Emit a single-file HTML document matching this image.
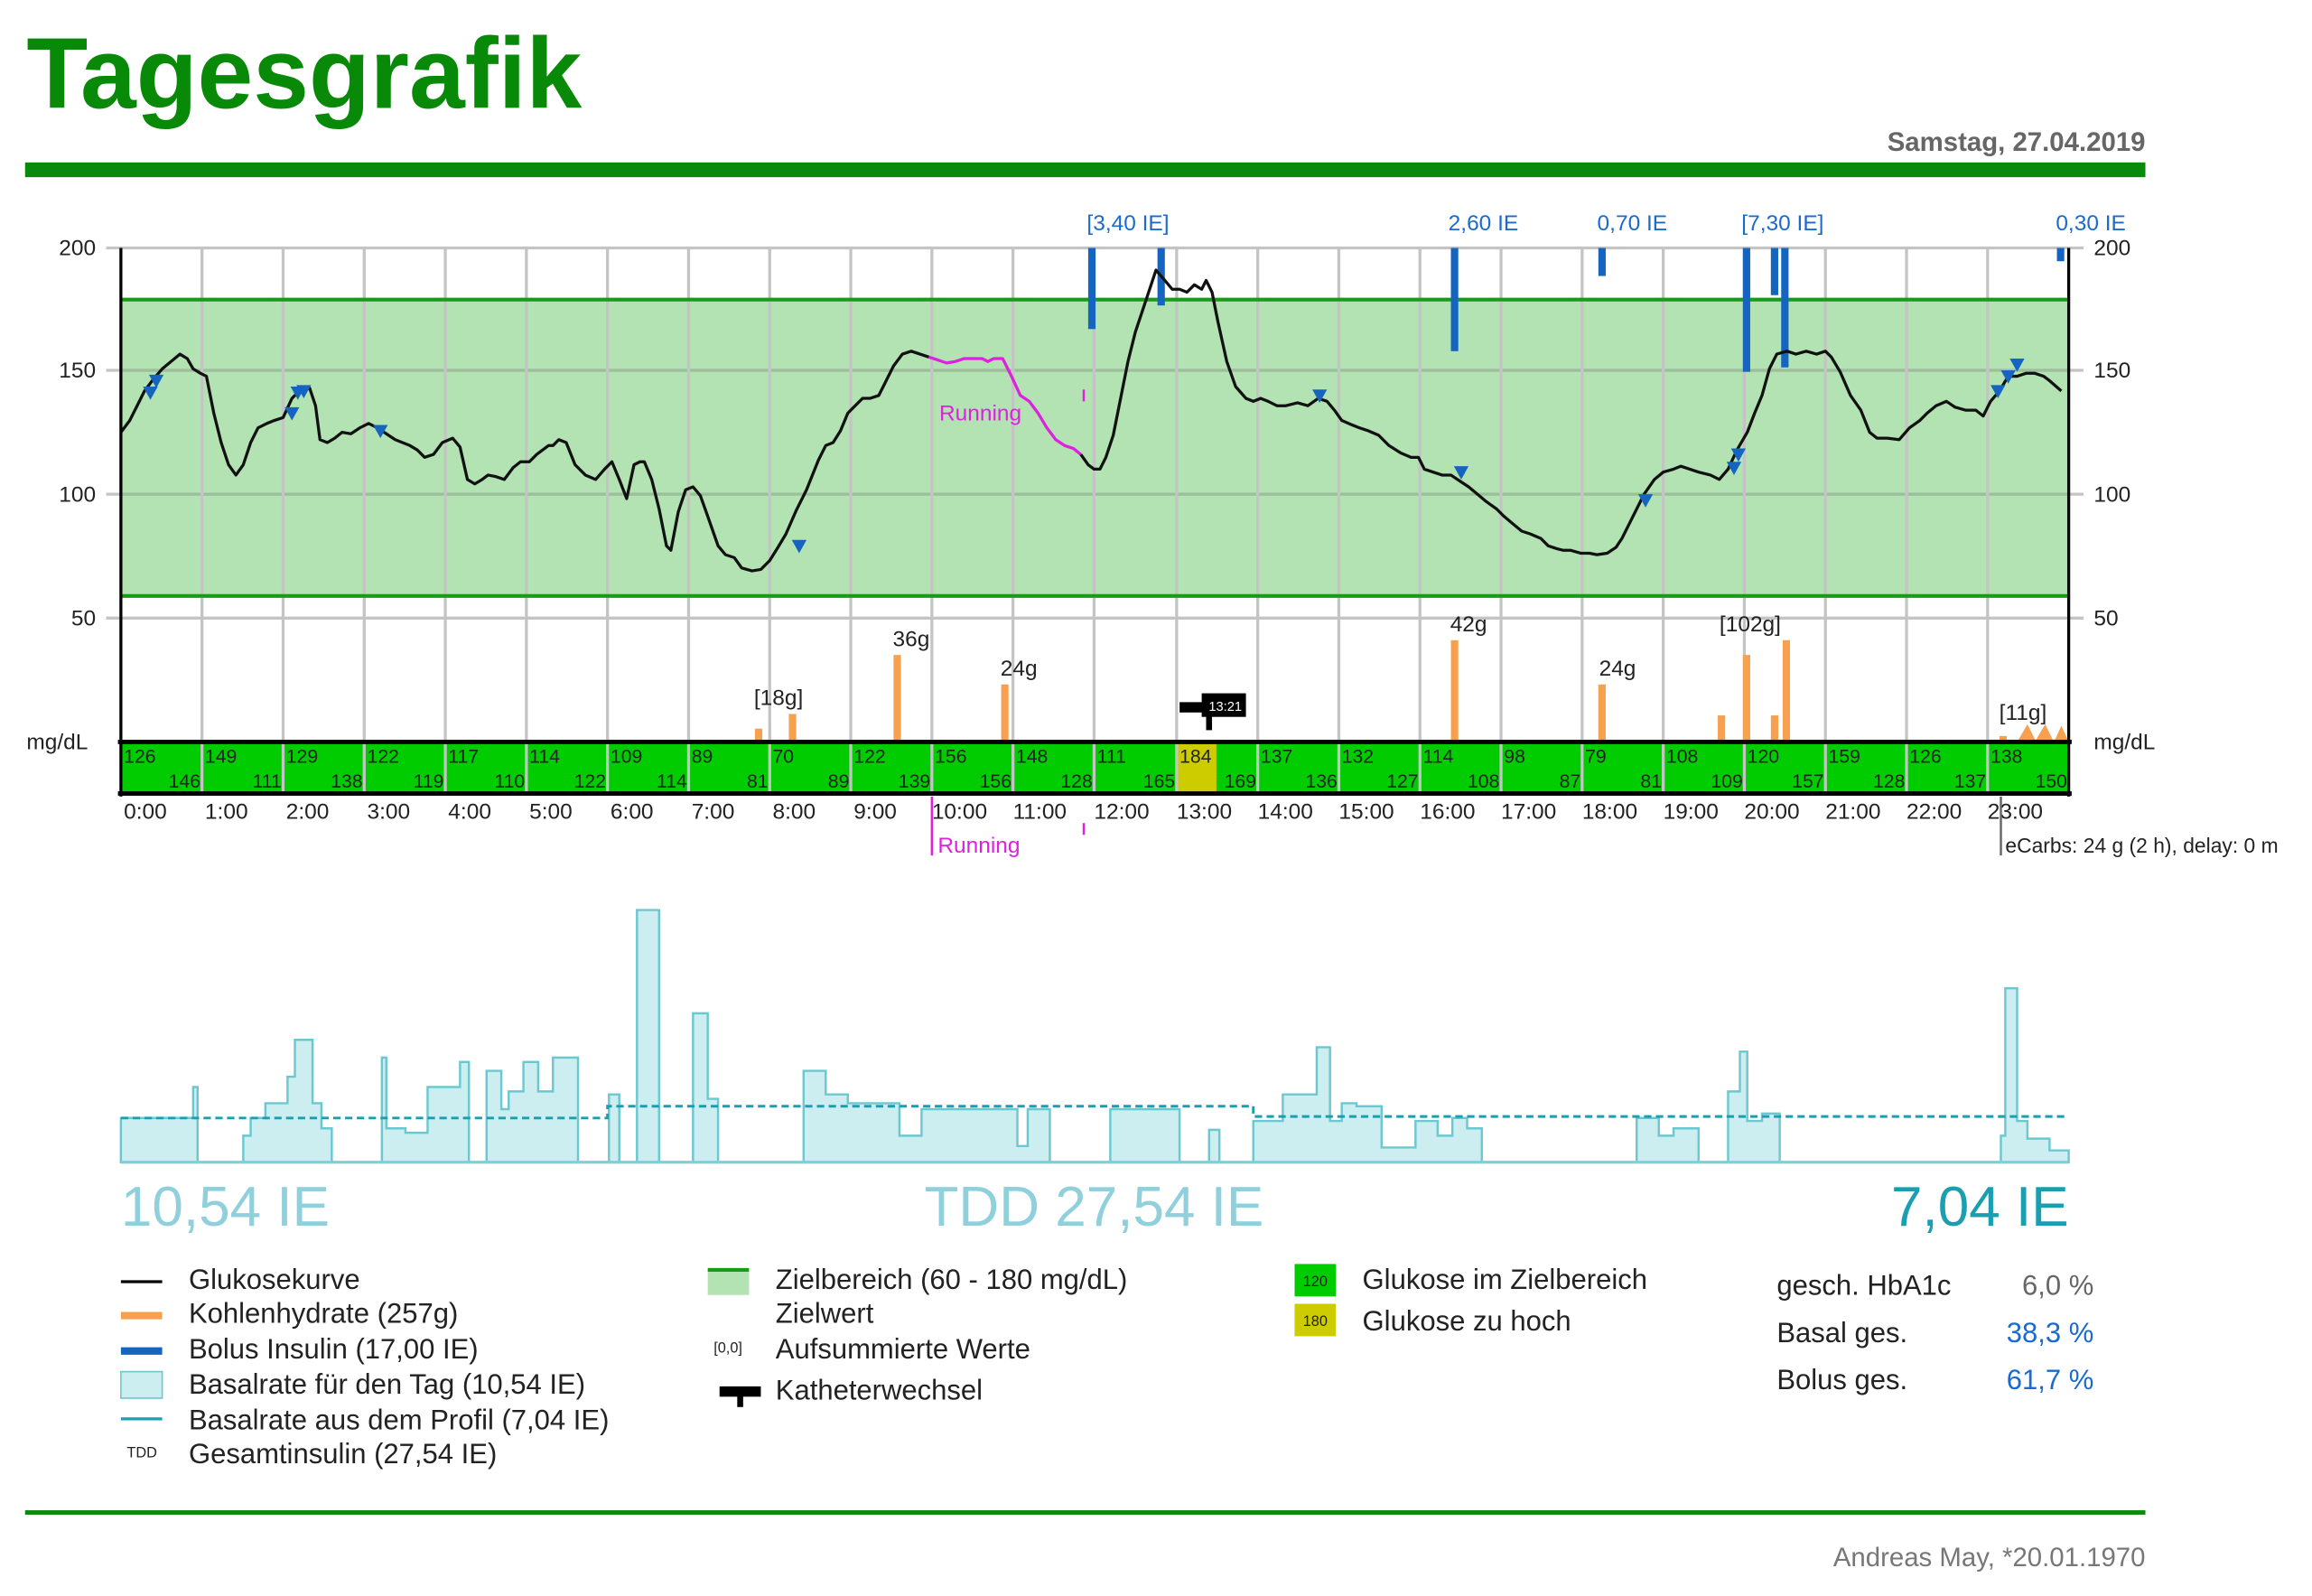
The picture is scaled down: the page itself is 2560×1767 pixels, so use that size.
<!DOCTYPE html>
<html><head><meta charset="utf-8"><style>html,body{margin:0;padding:0;background:#fff}svg{display:block}text{font-family:"Liberation Sans",sans-serif}</style></head><body>
<svg width="2560" height="1767" viewBox="0 0 1568 1082" xmlns="http://www.w3.org/2000/svg">
<text x="18" y="73" font-size="68" font-weight="bold" fill="#088a08">Tagesgrafik</text>
<rect x="17" y="110" width="1438" height="10" fill="#0a8a0a"/>
<text x="1455" y="102" font-size="18" text-anchor="end" fill="#666" font-weight="bold">Samstag, 27.04.2019</text>
<rect x="82" y="203" width="1321" height="201" fill="#b3e2b3"/>
<g stroke="#c4c4c4" stroke-width="2">
<line x1="72" y1="168" x2="1413" y2="168"/><line x1="72" y1="251" x2="1413" y2="251"/><line x1="72" y1="335" x2="1413" y2="335"/><line x1="72" y1="419" x2="1413" y2="419"/>
</g>
<g stroke="#9abf9a" stroke-width="2"><line x1="82" y1="251" x2="1403" y2="251"/><line x1="82" y1="335" x2="1403" y2="335"/></g>
<g stroke="#c4c4c4" stroke-width="2">
<line x1="137" y1="168" x2="137" y2="503"/><line x1="192" y1="168" x2="192" y2="503"/><line x1="247" y1="168" x2="247" y2="503"/><line x1="302" y1="168" x2="302" y2="503"/><line x1="357" y1="168" x2="357" y2="503"/><line x1="412" y1="168" x2="412" y2="503"/><line x1="467" y1="168" x2="467" y2="503"/><line x1="522" y1="168" x2="522" y2="503"/><line x1="577" y1="168" x2="577" y2="503"/><line x1="632" y1="168" x2="632" y2="503"/><line x1="687" y1="168" x2="687" y2="503"/><line x1="742" y1="168" x2="742" y2="503"/><line x1="798" y1="168" x2="798" y2="503"/><line x1="853" y1="168" x2="853" y2="503"/><line x1="908" y1="168" x2="908" y2="503"/><line x1="963" y1="168" x2="963" y2="503"/><line x1="1018" y1="168" x2="1018" y2="503"/><line x1="1073" y1="168" x2="1073" y2="503"/><line x1="1128" y1="168" x2="1128" y2="503"/><line x1="1183" y1="168" x2="1183" y2="503"/><line x1="1238" y1="168" x2="1238" y2="503"/><line x1="1293" y1="168" x2="1293" y2="503"/><line x1="1348" y1="168" x2="1348" y2="503"/>
</g>
<line x1="82" y1="203" x2="1403" y2="203" stroke="#1a9a1a" stroke-width="2.5"/>
<line x1="82" y1="404" x2="1403" y2="404" stroke="#1a9a1a" stroke-width="2.5"/>
<g font-size="15" fill="#222">
<text x="65" y="173" text-anchor="end">200</text><text x="65" y="256" text-anchor="end">150</text><text x="65" y="340" text-anchor="end">100</text><text x="65" y="424" text-anchor="end">50</text>
<text x="1420" y="173">200</text><text x="1420" y="256">150</text><text x="1420" y="340">100</text><text x="1420" y="424">50</text>
<text x="18" y="508">mg/dL</text><text x="1420" y="508">mg/dL</text>
</g>
<g fill="#1565c0">
<rect x="738" y="168" width="5" height="55"/><rect x="785" y="168" width="5" height="39"/><rect x="984" y="168" width="5" height="70"/><rect x="1084" y="168" width="5" height="19"/><rect x="1182" y="168" width="5" height="84"/><rect x="1201" y="168" width="5" height="32"/><rect x="1208" y="168" width="5" height="81"/><rect x="1395" y="168" width="5" height="9"/>
</g>
<g font-size="15" fill="#1a6ad0" text-anchor="middle">
<text x="765" y="156">[3,40 IE]</text><text x="1006" y="156">2,60 IE</text><text x="1107" y="156">0,70 IE</text><text x="1209" y="156">[7,30 IE]</text><text x="1418" y="156">0,30 IE</text>
</g>
<g fill="#f7a050">
<rect x="512" y="494" width="5" height="9"/><rect x="535" y="484" width="5" height="19"/><rect x="606" y="444" width="5" height="59"/><rect x="679" y="464" width="5" height="39"/><rect x="984" y="434" width="5" height="69"/><rect x="1084" y="464" width="5" height="39"/><rect x="1165" y="485" width="5" height="18"/><rect x="1182" y="444" width="5" height="59"/><rect x="1201" y="485" width="5" height="18"/><rect x="1209" y="434" width="5" height="69"/><rect x="1356" y="499" width="5" height="4"/>
<polygon points="1368,503 1375,491 1381,503"/><polygon points="1380,503 1387,491 1393,503"/><polygon points="1393,503 1398,492 1403,503"/>
</g>
<g font-size="15" fill="#222" text-anchor="middle">
<text x="528" y="478">[18g]</text><text x="618" y="438">36g</text><text x="691" y="458">24g</text><text x="996" y="428">42g</text><text x="1097" y="458">24g</text><text x="1187" y="428">[102g]</text><text x="1372" y="488">[11g]</text>
</g>
<rect x="800" y="476" width="20" height="7" fill="#000"/><rect x="815" y="470" width="30" height="16" fill="#000"/><rect x="818" y="483" width="4" height="12" fill="#000"/>
<text x="831" y="482" font-size="9" fill="#fff" text-anchor="middle">13:21</text>
<polyline fill="none" stroke="#111" stroke-width="2" stroke-linejoin="round" points="82,293 88,285 93,275 98,265 104,257 110,250 116,245 122,240 127,243 131,250 136,253 140,255 145,280 150,300 155,315 160,322 165,315 170,300 175,290 181,287 186,285 192,283 198,270 203,265 210,263 214,275 217,298 222,300 227,297 232,293 238,294 244,290 250,287 256,290 262,294 268,298 273,300 278,302 283,305 288,310 294,308 300,300 307,297 312,303 317,325 322,328 327,325 331,322 336,323 342,325 348,317 353,313 359,313 364,308 368,305 372,302 375,302 379,298 384,300 390,315 397,322 404,325 410,318 415,313 420,325 425,338 430,315 434,313 437,313 442,325 447,345 452,370 455,373 460,347 465,332 470,330 475,336 480,350 487,370 492,376 498,378 503,385 510,387 516,386 522,380 527,372 533,362 540,346 547,332 555,312 560,302 565,300 570,292 575,280 580,275 585,270 590,270 596,268 600,260 606,248 612,240 618,238 624,240 630,242"/>
<polyline fill="none" stroke="#e020e0" stroke-width="2" stroke-linejoin="round" points="630,242 636,244 642,246 648,245 654,243 660,243 666,243 670,245 674,243 680,243 686,255 692,268 698,272 704,280 710,290 716,298 722,302 728,304 733,308"/>
<polyline fill="none" stroke="#111" stroke-width="2" stroke-linejoin="round" points="733,308 738,315 742,318 746,318 750,310 755,295 760,270 765,245 770,225 775,210 780,195 784,183 790,190 795,196 800,196 805,198 810,193 815,196 818,190 822,198 826,218 832,245 838,262 845,270 850,272 855,270 860,272 866,275 872,275 880,273 887,275 894,270 900,272 905,278 910,285 917,288 922,290 928,292 935,295 942,302 950,307 957,310 962,310 966,318 972,320 978,322 984,322 990,326 996,330 1002,335 1008,340 1015,345 1020,350 1026,355 1032,360 1038,362 1045,365 1050,370 1056,372 1060,373 1065,373 1072,375 1078,375 1083,376 1090,375 1096,371 1100,365 1105,355 1110,345 1115,335 1122,325 1128,320 1135,318 1140,316 1146,318 1152,320 1160,322 1166,325 1172,318 1178,305 1185,293 1190,280 1195,268 1200,250 1205,240 1212,238 1218,240 1225,238 1232,240 1238,238 1242,242 1248,252 1255,268 1262,278 1268,293 1273,297 1280,297 1288,298 1295,290 1302,285 1307,280 1313,275 1320,272 1326,276 1333,278 1340,278 1345,282 1350,272 1356,265 1362,255 1368,255 1374,253 1380,253 1386,255 1390,258 1398,265"/>
<g fill="#1565c0">
<polygon points="97,262 107,262 102,271"/><polygon points="101,254 111,254 106,263"/><polygon points="193,276 203,276 198,285"/><polygon points="197,262 207,262 202,271"/><polygon points="201,261 211,261 206,270"/><polygon points="253,288 263,288 258,297"/><polygon points="537,366 547,366 542,375"/><polygon points="890,264 900,264 895,273"/><polygon points="986,316 996,316 991,325"/><polygon points="1111,335 1121,335 1116,344"/><polygon points="1171,313 1181,313 1176,322"/><polygon points="1174,304 1184,304 1179,313"/><polygon points="1350,261 1360,261 1355,270"/><polygon points="1357,251 1367,251 1362,260"/><polygon points="1363,243 1373,243 1368,252"/>
</g>
<text x="637" y="285" font-size="15" fill="#e020e0">Running</text>
<line x1="735" y1="264" x2="735" y2="272" stroke="#e020e0" stroke-width="1.5"/>
<rect x="82" y="503" width="1321" height="35" fill="#00cc00"/>
<rect x="798" y="503" width="27" height="35" fill="#cccc00"/>
<g stroke="#c4c4c4" stroke-width="2">
<line x1="137" y1="503" x2="137" y2="538"/><line x1="192" y1="503" x2="192" y2="538"/><line x1="247" y1="503" x2="247" y2="538"/><line x1="302" y1="503" x2="302" y2="538"/><line x1="357" y1="503" x2="357" y2="538"/><line x1="412" y1="503" x2="412" y2="538"/><line x1="467" y1="503" x2="467" y2="538"/><line x1="522" y1="503" x2="522" y2="538"/><line x1="577" y1="503" x2="577" y2="538"/><line x1="632" y1="503" x2="632" y2="538"/><line x1="687" y1="503" x2="687" y2="538"/><line x1="742" y1="503" x2="742" y2="538"/><line x1="798" y1="503" x2="798" y2="538"/><line x1="853" y1="503" x2="853" y2="538"/><line x1="908" y1="503" x2="908" y2="538"/><line x1="963" y1="503" x2="963" y2="538"/><line x1="1018" y1="503" x2="1018" y2="538"/><line x1="1073" y1="503" x2="1073" y2="538"/><line x1="1128" y1="503" x2="1128" y2="538"/><line x1="1183" y1="503" x2="1183" y2="538"/><line x1="1238" y1="503" x2="1238" y2="538"/><line x1="1293" y1="503" x2="1293" y2="538"/><line x1="1348" y1="503" x2="1348" y2="538"/>
</g>
<line x1="80" y1="503" x2="1405" y2="503" stroke="#000" stroke-width="3"/>
<line x1="80" y1="538" x2="1405" y2="538" stroke="#000" stroke-width="3"/>
<line x1="82" y1="168" x2="82" y2="540" stroke="#000" stroke-width="2"/>
<line x1="1403" y1="168" x2="1403" y2="540" stroke="#000" stroke-width="2"/>
<g font-size="13" fill="#222">
<text x="84" y="517">126</text><text x="139" y="517">149</text><text x="194" y="517">129</text><text x="249" y="517">122</text><text x="304" y="517">117</text><text x="359" y="517">114</text><text x="414" y="517">109</text><text x="469" y="517">89</text><text x="524" y="517">70</text><text x="579" y="517">122</text><text x="634" y="517">156</text><text x="689" y="517">148</text><text x="744" y="517">111</text><text x="800" y="517">184</text><text x="855" y="517">137</text><text x="910" y="517">132</text><text x="965" y="517">114</text><text x="1020" y="517">98</text><text x="1075" y="517">79</text><text x="1130" y="517">108</text><text x="1185" y="517">120</text><text x="1240" y="517">159</text><text x="1295" y="517">126</text><text x="1350" y="517">138</text>
</g>
<g font-size="13" fill="#222" text-anchor="end">
<text x="136" y="534">146</text><text x="191" y="534">111</text><text x="246" y="534">138</text><text x="301" y="534">119</text><text x="356" y="534">110</text><text x="411" y="534">122</text><text x="466" y="534">114</text><text x="521" y="534">81</text><text x="576" y="534">89</text><text x="631" y="534">139</text><text x="686" y="534">156</text><text x="741" y="534">128</text><text x="797" y="534">165</text><text x="852" y="534">169</text><text x="907" y="534">136</text><text x="962" y="534">127</text><text x="1017" y="534">108</text><text x="1072" y="534">87</text><text x="1127" y="534">81</text><text x="1182" y="534">109</text><text x="1237" y="534">157</text><text x="1292" y="534">128</text><text x="1347" y="534">137</text><text x="1402" y="534">150</text>
</g>
<g font-size="15" fill="#222">
<text x="84" y="555">0:00</text><text x="139" y="555">1:00</text><text x="194" y="555">2:00</text><text x="249" y="555">3:00</text><text x="304" y="555">4:00</text><text x="359" y="555">5:00</text><text x="414" y="555">6:00</text><text x="469" y="555">7:00</text><text x="524" y="555">8:00</text><text x="579" y="555">9:00</text><text x="632" y="555">10:00</text><text x="687" y="555">11:00</text><text x="742" y="555">12:00</text><text x="798" y="555">13:00</text><text x="853" y="555">14:00</text><text x="908" y="555">15:00</text><text x="963" y="555">16:00</text><text x="1018" y="555">17:00</text><text x="1073" y="555">18:00</text><text x="1128" y="555">19:00</text><text x="1183" y="555">20:00</text><text x="1238" y="555">21:00</text><text x="1293" y="555">22:00</text><text x="1348" y="555">23:00</text>
</g>
<line x1="632" y1="540" x2="632" y2="580" stroke="#e020e0" stroke-width="1.5"/>
<line x1="735" y1="558" x2="735" y2="566" stroke="#e020e0" stroke-width="1.5"/>
<text x="636" y="578" font-size="15" fill="#e020e0">Running</text>
<line x1="1357" y1="540" x2="1357" y2="580" stroke="#666" stroke-width="1.5"/>
<text x="1360" y="578" font-size="14" fill="#222">eCarbs: 24 g (2 h), delay: 0 m</text>
<g fill="#cdeef0" stroke="#6cc8d0" stroke-width="1.5">
<path d="M82 788 V758 H131 V737 H134 V788 Z"/>
<path d="M165 788 V770 H170 V758 H180 V748 H195 V730 H200 V705 H212 V748 H218 V765 H225 V788 Z"/>
<path d="M259 788 V717 H262 V765 H275 V768 H290 V737 H312 V720 H318 V788 Z"/>
<path d="M330 788 V726 H340 V752 H345 V740 H355 V720 H365 V740 H375 V717 H392 V788 Z"/>
<path d="M413 788 V742 H420 V788 Z"/>
<path d="M432 788 V617 H447 V788 Z"/>
<path d="M470 788 V687 H480 V745 H487 V788 Z"/>
<path d="M545 788 V726 H560 V742 H575 V748 H610 V770 H625 V752 H690 V777 H697 V752 H712 V788 Z"/>
<path d="M753 788 V752 H800 V788 Z"/>
<path d="M820 788 V766 H827 V788 Z"/>
<path d="M850 788 V760 H870 V742 H893 V710 H902 V760 H910 V748 H920 V750 H937 V778 H960 V760 H975 V770 H985 V758 H995 V765 H1005 V788 Z"/>
<path d="M1110 788 V758 H1125 V770 H1135 V765 H1152 V788 Z"/>
<path d="M1172 788 V740 H1180 V713 H1185 V760 H1195 V755 H1207 V788 Z"/>
<path d="M1357 788 V770 H1360 V670 H1368 V760 H1375 V772 H1390 V780 H1403 V788 Z"/>
</g>
<line x1="82" y1="788" x2="1403" y2="788" stroke="#7fcfd8" stroke-width="2"/>
<polyline fill="none" stroke="#1a9fb0" stroke-width="1.8" stroke-dasharray="5,3" points="82,758 412,758 412,750 850,750 850,757 1403,757"/>
<text x="82" y="831" font-size="38" fill="#8fd0dc">10,54 IE</text>
<text x="742" y="831" font-size="38" fill="#8fd0dc" text-anchor="middle">TDD 27,54 IE</text>
<text x="1403" y="831" font-size="38" fill="#1a9fb0" text-anchor="end">7,04 IE</text>
<line x1="82" y1="869" x2="110" y2="869" stroke="#000" stroke-width="2"/>
<line x1="82" y1="892" x2="110" y2="892" stroke="#f7a050" stroke-width="5"/>
<line x1="82" y1="916" x2="110" y2="916" stroke="#1565c0" stroke-width="5"/>
<rect x="82" y="930" width="28" height="18" fill="#cdeef0" stroke="#6cc8d0"/>
<line x1="82" y1="962" x2="110" y2="962" stroke="#1a9fb0" stroke-width="2"/>
<text x="86" y="988" font-size="10" fill="#222">TDD</text>
<g font-size="19" fill="#222">
<text x="128" y="874">Glukosekurve</text><text x="128" y="897">Kohlenhydrate (257g)</text><text x="128" y="921">Bolus Insulin (17,00 IE)</text><text x="128" y="945">Basalrate für den Tag (10,54 IE)</text><text x="128" y="969">Basalrate aus dem Profil (7,04 IE)</text><text x="128" y="992">Gesamtinsulin (27,54 IE)</text>
<text x="526" y="874">Zielbereich (60 - 180 mg/dL)</text><text x="526" y="897">Zielwert</text><text x="526" y="921">Aufsummierte Werte</text><text x="526" y="949">Katheterwechsel</text>
<text x="924" y="874">Glukose im Zielbereich</text><text x="924" y="902">Glukose zu hoch</text>
<text x="1205" y="878">gesch. HbA1c</text><text x="1205" y="910">Basal ges.</text><text x="1205" y="942">Bolus ges.</text>
</g>
<g font-size="19" text-anchor="end"><text x="1420" y="878" fill="#666">6,0 %</text><text x="1420" y="910" fill="#1a6ad0">38,3 %</text><text x="1420" y="942" fill="#1a6ad0">61,7 %</text></g>
<rect x="480" y="861" width="28" height="17" fill="#b3e2b3"/><line x1="480" y1="861" x2="508" y2="861" stroke="#1a9a1a" stroke-width="2.5"/>
<text x="484" y="917" font-size="10" fill="#222">[0,0]</text>
<rect x="488" y="940" width="28" height="7" fill="#000"/><rect x="500" y="946" width="4" height="8" fill="#000"/>
<rect x="878" y="857" width="28" height="22" fill="#00cc00"/><text x="892" y="872" font-size="10" fill="#222" text-anchor="middle">120</text>
<rect x="878" y="884" width="28" height="22" fill="#cccc00"/><text x="892" y="899" font-size="10" fill="#222" text-anchor="middle">180</text>
<rect x="17" y="1024" width="1438" height="3" fill="#0a8a0a"/>
<text x="1455" y="1062" font-size="18" fill="#777" text-anchor="end">Andreas May, *20.01.1970</text>
</svg>
</body></html>
